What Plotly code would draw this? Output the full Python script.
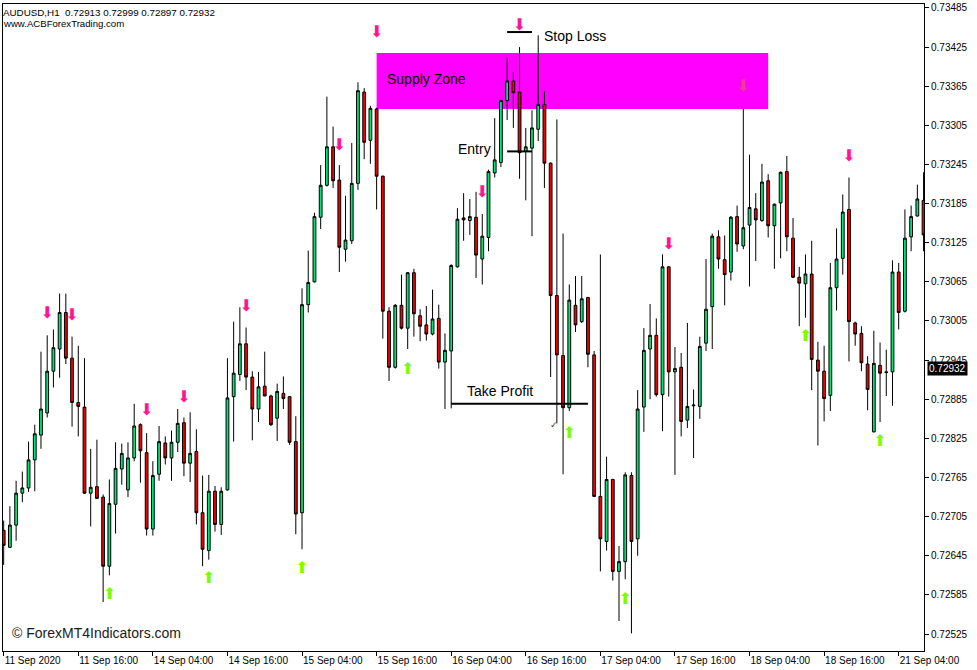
import plotly.graph_objects as go

# ---------------- data ----------------
SYMBOL = "AUDUSD,H1"
HEADER_OHLC = ["0.72913", "0.72999", "0.72897", "0.72932"]
SITE = "www.ACBForexTrading.com"
WATERMARK = "© ForexMT4Indicators.com"
LAST_PRICE = 0.72932

OPEN = [0.72684, 0.72658, 0.72692, 0.72741, 0.72749, 0.72792, 0.72830, 0.72864, 0.72928, 0.72962,
        0.73018, 0.72948, 0.72880, 0.72873, 0.72741, 0.72751, 0.72735, 0.72629, 0.72724, 0.72778,
        0.72746, 0.72795, 0.72846, 0.72803, 0.72686, 0.72770, 0.72818, 0.72795, 0.72819, 0.72849,
        0.72787, 0.72805, 0.72711, 0.72653, 0.72744, 0.72693, 0.72746, 0.72889, 0.72923, 0.72970,
        0.72919, 0.72870, 0.72905, 0.72890, 0.72856, 0.72894, 0.72889, 0.72820, 0.72711, 0.73030,
        0.73065, 0.73164, 0.73213, 0.73272, 0.73221, 0.73115, 0.73128, 0.73216, 0.73356, 0.73282,
        0.73330, 0.73227, 0.73020, 0.72934, 0.73029, 0.72994, 0.73079, 0.73013, 0.72999, 0.72985,
        0.73009, 0.72942, 0.72959, 0.73088, 0.73163, 0.73159, 0.73164, 0.73100, 0.73133, 0.73232,
        0.73248, 0.73343, 0.73373, 0.73356, 0.73265, 0.73270, 0.73299, 0.73337, 0.73247, 0.73044,
        0.72952, 0.72872, 0.73029, 0.73004, 0.73041, 0.72953, 0.72736, 0.72667, 0.72762, 0.72621,
        0.72636, 0.72768, 0.72671, 0.72873, 0.72962, 0.72983, 0.72892, 0.73088, 0.72927, 0.72934,
        0.72853, 0.72875, 0.72874, 0.72971, 0.73027, 0.73134, 0.73099, 0.73080, 0.73165, 0.73120,
        0.73152, 0.73177, 0.73159, 0.73220, 0.73151, 0.73186, 0.73234, 0.73132, 0.73072, 0.73062,
        0.73077, 0.72945, 0.72928, 0.72891, 0.73056, 0.73101, 0.73176, 0.73002, 0.72986, 0.72939,
        0.72835, 0.72937, 0.72927, 0.72927, 0.73080, 0.73020, 0.73134, 0.73166, 0.73190]

HIGH = [0.72699, 0.72721, 0.72760, 0.72774, 0.72820, 0.72846, 0.72958, 0.72983, 0.72992, 0.73047,
        0.73047, 0.72981, 0.72967, 0.72948, 0.72809, 0.72823, 0.72739, 0.72762, 0.72819, 0.72817,
        0.72819, 0.72878, 0.72848, 0.72833, 0.72790, 0.72844, 0.72828, 0.72837, 0.72870, 0.72857,
        0.72865, 0.72839, 0.72768, 0.72769, 0.72752, 0.72750, 0.72948, 0.73004, 0.73026, 0.72995,
        0.72928, 0.72927, 0.72958, 0.72892, 0.72909, 0.72920, 0.72890, 0.72859, 0.73055, 0.73113,
        0.73171, 0.73244, 0.73349, 0.73303, 0.73244, 0.73197, 0.73278, 0.73371, 0.73362, 0.73335,
        0.73332, 0.73228, 0.73026, 0.73031, 0.73076, 0.73080, 0.73085, 0.73023, 0.73028, 0.73053,
        0.73030, 0.72986, 0.73092, 0.73178, 0.73201, 0.73192, 0.73203, 0.73169, 0.73237, 0.73316,
        0.73344, 0.73408, 0.73387, 0.73425, 0.73301, 0.73328, 0.73443, 0.73357, 0.73248, 0.73314,
        0.73139, 0.73061, 0.73074, 0.73074, 0.73042, 0.72959, 0.73107, 0.72797, 0.72763, 0.72660,
        0.72773, 0.72773, 0.72899, 0.72994, 0.73031, 0.73009, 0.73107, 0.73089, 0.72965, 0.72956,
        0.73002, 0.72900, 0.72981, 0.73100, 0.73139, 0.73144, 0.73136, 0.73166, 0.73182, 0.73330,
        0.73260, 0.73201, 0.73246, 0.73230, 0.73185, 0.73234, 0.73258, 0.73163, 0.73088, 0.73107,
        0.73128, 0.72973, 0.72967, 0.73094, 0.73147, 0.73199, 0.73225, 0.73004, 0.72997, 0.72951,
        0.72990, 0.72972, 0.72961, 0.73098, 0.73094, 0.73176, 0.73182, 0.73214, 0.73233]

LOW = [0.72631, 0.72657, 0.72668, 0.72727, 0.72743, 0.72744, 0.72809, 0.72857, 0.72903, 0.72918,
       0.72939, 0.72843, 0.72828, 0.72740, 0.72690, 0.72732, 0.72574, 0.72615, 0.72679, 0.72754,
       0.72735, 0.72790, 0.72757, 0.72676, 0.72676, 0.72760, 0.72785, 0.72760, 0.72804, 0.72767,
       0.72758, 0.72693, 0.72629, 0.72639, 0.72682, 0.72677, 0.72745, 0.72820, 0.72913, 0.72899,
       0.72822, 0.72850, 0.72890, 0.72844, 0.72821, 0.72870, 0.72815, 0.72678, 0.72655, 0.73018,
       0.73064, 0.73146, 0.73211, 0.73209, 0.73080, 0.73096, 0.73123, 0.73206, 0.73253, 0.73246,
       0.73176, 0.72978, 0.72913, 0.72932, 0.72992, 0.72962, 0.72981, 0.72974, 0.72975, 0.72983,
       0.72932, 0.72870, 0.72871, 0.73087, 0.73128, 0.73137, 0.73071, 0.73061, 0.73112, 0.73225,
       0.73241, 0.73313, 0.73301, 0.73223, 0.73190, 0.73135, 0.73281, 0.73209, 0.72919, 0.72848,
       0.72770, 0.72867, 0.72988, 0.73002, 0.72934, 0.72735, 0.72621, 0.72653, 0.72607, 0.72545,
       0.72609, 0.72526, 0.72645, 0.72835, 0.72885, 0.72889, 0.72836, 0.72889, 0.72769, 0.72828,
       0.72841, 0.72795, 0.72855, 0.72959, 0.72962, 0.73085, 0.73029, 0.73067, 0.73111, 0.73115,
       0.73058, 0.73097, 0.73157, 0.73133, 0.73085, 0.73101, 0.73112, 0.73071, 0.72997, 0.73010,
       0.72899, 0.72814, 0.72851, 0.72867, 0.73021, 0.73076, 0.72943, 0.72967, 0.72928, 0.72868,
       0.72834, 0.72850, 0.72890, 0.72875, 0.72992, 0.73018, 0.73112, 0.73165, 0.73112]

CLOSE = [0.72661, 0.72692, 0.72741, 0.72749, 0.72792, 0.72832, 0.72870, 0.72928, 0.72964, 0.73018,
         0.72948, 0.72880, 0.72874, 0.72741, 0.72750, 0.72733, 0.72629, 0.72725, 0.72779, 0.72802,
         0.72795, 0.72844, 0.72806, 0.72686, 0.72768, 0.72820, 0.72795, 0.72819, 0.72848, 0.72787,
         0.72802, 0.72711, 0.72655, 0.72744, 0.72693, 0.72744, 0.72887, 0.72925, 0.72970, 0.72919,
         0.72870, 0.72904, 0.72890, 0.72846, 0.72897, 0.72886, 0.72819, 0.72709, 0.73030, 0.73064,
         0.73165, 0.73213, 0.73272, 0.73220, 0.73118, 0.73129, 0.73216, 0.73358, 0.73279, 0.73331,
         0.73227, 0.73020, 0.72934, 0.73029, 0.72994, 0.73079, 0.73016, 0.72997, 0.72985, 0.73008,
         0.72942, 0.72960, 0.73090, 0.73161, 0.73160, 0.73165, 0.73106, 0.73135, 0.73234, 0.73252,
         0.73343, 0.73373, 0.73355, 0.73263, 0.73272, 0.73301, 0.73337, 0.73247, 0.73044, 0.72953,
         0.72872, 0.73037, 0.72999, 0.73039, 0.72954, 0.72736, 0.72671, 0.72762, 0.72621, 0.72636,
         0.72769, 0.72667, 0.72870, 0.72960, 0.72983, 0.72892, 0.73088, 0.72927, 0.72932, 0.72851,
         0.72874, 0.72876, 0.72966, 0.73023, 0.73135, 0.73100, 0.73076, 0.73164, 0.73123, 0.73148,
         0.73179, 0.73160, 0.73218, 0.73151, 0.73184, 0.73233, 0.73134, 0.73072, 0.73063, 0.73077,
         0.72946, 0.72928, 0.72886, 0.73056, 0.73100, 0.73172, 0.73004, 0.72985, 0.72941, 0.72900,
         0.72940, 0.72925, 0.72926, 0.73080, 0.73018, 0.73132, 0.73165, 0.73192, 0.73137]

BARS = list(range(len(OPEN)))

TIME_TICK_BARS = [0, 12, 24, 36, 48, 60, 72, 84, 96, 108, 120, 132, 144]
TIME_TICK_LABELS = ["11 Sep 2020", "11 Sep 16:00", "14 Sep 04:00", "14 Sep 16:00",
                    "15 Sep 04:00", "15 Sep 16:00", "16 Sep 04:00", "16 Sep 16:00",
                    "17 Sep 04:00", "17 Sep 16:00", "18 Sep 04:00", "18 Sep 16:00",
                    "21 Sep 04:00"]
PRICE_TICKS = [0.72525, 0.72585, 0.72645, 0.72705, 0.72765, 0.72825, 0.72885, 0.72945,
               0.73005, 0.73065, 0.73125, 0.73185, 0.73245, 0.73305, 0.73365, 0.73425, 0.73485]

DOWN_ARROW_BARS = [7, 11, 23, 29, 39, 54, 60, 77, 83, 107, 136]
DOWN_ARROW_PRICES = [0.73015, 0.73013, 0.72867, 0.72887, 0.73026, 0.73274, 0.73446,
                     0.73201, 0.73457, 0.73121, 0.73256]
FADED_ARROW_BARS = [119]
FADED_ARROW_PRICES = [0.73364]
UP_ARROW_BARS = [17, 33, 48, 65, 91, 100, 129, 141]
UP_ARROW_PRICES = [0.72585, 0.72609, 0.72625, 0.72930, 0.72832, 0.72577, 0.72981, 0.72819]

SUPPLY_ZONE_BARS = [60, 123]
SUPPLY_ZONE_PRICES = [0.73330, 0.73416]
STOP_LOSS = 0.73448
ENTRY = 0.73265
TAKE_PROFIT = 0.72878
TRADE_BARS = [81, 85]
TP_BARS = [72, 94]
CLOSE_MARK = [88.6, 0.72846]

# ---------------- figure ----------------
GREEN = "#00E676"
RED = "#F00000"
FONT = "Liberation Sans"

fig = go.Figure()

fig.add_trace(go.Candlestick(
    x=BARS, open=OPEN, high=HIGH, low=LOW, close=CLOSE,
    increasing=dict(fillcolor=GREEN, line=dict(color="#000000", width=1)),
    decreasing=dict(fillcolor=RED, line=dict(color="#000000", width=1)),
    whiskerwidth=0, showlegend=False, hoverinfo="skip",
))

arrow_font = dict(family="DejaVu Sans", size=16)
fig.add_trace(go.Scatter(
    x=DOWN_ARROW_BARS, y=DOWN_ARROW_PRICES, mode="text", text=["⬇"] * len(DOWN_ARROW_BARS),
    textfont=dict(arrow_font, color="#FF1493"),
    showlegend=False, hoverinfo="skip",
))
fig.add_trace(go.Scatter(
    x=FADED_ARROW_BARS, y=FADED_ARROW_PRICES, mode="text", text=["⬇"] * len(FADED_ARROW_BARS),
    textfont=dict(arrow_font, color="#EE3C8E"),
    showlegend=False, hoverinfo="skip",
))
fig.add_trace(go.Scatter(
    x=UP_ARROW_BARS, y=UP_ARROW_PRICES, mode="text", text=["⬆"] * len(UP_ARROW_BARS),
    textfont=dict(arrow_font, color="#7CFC00"),
    showlegend=False, hoverinfo="skip",
))

shapes = [
    dict(type="rect", xref="x", yref="y", x0=SUPPLY_ZONE_BARS[0], x1=SUPPLY_ZONE_BARS[1],
         y0=SUPPLY_ZONE_PRICES[0], y1=SUPPLY_ZONE_PRICES[1], fillcolor="#FF00FF",
         line=dict(width=0), layer="below"),
    dict(type="line", xref="x", yref="y", x0=TRADE_BARS[0], x1=TRADE_BARS[1],
         y0=STOP_LOSS, y1=STOP_LOSS, line=dict(color="#000000", width=2)),
    dict(type="line", xref="x", yref="y", x0=TRADE_BARS[0], x1=TRADE_BARS[1],
         y0=ENTRY, y1=ENTRY, line=dict(color="#000000", width=2)),
    dict(type="line", xref="x", yref="y", x0=TP_BARS[0], x1=TP_BARS[1],
         y0=TAKE_PROFIT, y1=TAKE_PROFIT, line=dict(color="#000000", width=2)),
]

label_font = dict(family=FONT, size=14, color="#000000")
annotations = [
    dict(x=SUPPLY_ZONE_BARS[0], y=(SUPPLY_ZONE_PRICES[0] + SUPPLY_ZONE_PRICES[1]) / 2,
         xref="x", yref="y", text="Supply Zone", showarrow=False, xanchor="left",
         yanchor="middle", xshift=8, yshift=2, font=label_font),
    dict(x=TRADE_BARS[1], y=STOP_LOSS, xref="x", yref="y", text="Stop Loss", showarrow=False,
         xanchor="left", yanchor="middle", xshift=10, yshift=-4, font=label_font),
    dict(x=TRADE_BARS[0], y=ENTRY, xref="x", yref="y", text="Entry", showarrow=False,
         xanchor="right", yanchor="middle", xshift=-14, yshift=2, font=label_font),
    dict(x=TP_BARS[0], y=TAKE_PROFIT, xref="x", yref="y", text="Take Profit", showarrow=False,
         xanchor="left", yanchor="bottom", xshift=14, yshift=3, font=label_font),
    dict(x=CLOSE_MARK[0], y=CLOSE_MARK[1], xref="x", yref="y", text="✓", showarrow=False,
         font=dict(family="DejaVu Sans", size=9, color="#333333")),
    dict(x=0, y=1, xref="paper", yref="paper", xanchor="left", yanchor="top", xshift=-2, yshift=-1,
         text=SYMBOL + "\u00a0\u00a0" + " ".join(HEADER_OHLC), showarrow=False,
         font=dict(family=FONT, size=9.8, color="#000000")),
    dict(x=0, y=1, xref="paper", yref="paper", xanchor="left", yanchor="top", xshift=-2, yshift=-12,
         text=SITE, showarrow=False, font=dict(family=FONT, size=9.6, color="#000000")),
    dict(x=0, y=0, xref="paper", yref="paper", xanchor="left", yanchor="bottom", xshift=7, yshift=8,
         text=WATERMARK, showarrow=False, font=dict(family=FONT, size=14, color="#1a1a1a")),
    dict(x=1, y=LAST_PRICE, xref="paper", yref="y", xanchor="left", yanchor="middle", xshift=3,
         text=f"{LAST_PRICE:.5f}", showarrow=False, bgcolor="#000000", borderpad=1,
         font=dict(family=FONT, size=10, color="#FFFFFF")),
]

fig.update_layout(
    width=977, height=670,
    margin=dict(l=2, r=53, t=2, b=19),
    paper_bgcolor="#FFFFFF", plot_bgcolor="#FFFFFF",
    boxgap=0.36,
    shapes=shapes, annotations=annotations,
    font=dict(family=FONT, size=10, color="#000000"),
    xaxis=dict(
        range=[-0.11, 148.07], tickmode="array", tickvals=TIME_TICK_BARS, ticktext=TIME_TICK_LABELS,
        ticks="outside", ticklen=4, tickcolor="#000000", ticklabelposition="outside right",
        showgrid=False, zeroline=False, showline=True, linecolor="#000000", linewidth=1,
        mirror=True, rangeslider=dict(visible=False), fixedrange=True,
        tickfont=dict(family=FONT, size=10, color="#000000"),
    ),
    yaxis=dict(
        range=[0.72499, 0.73491], side="right", tickmode="array", tickvals=PRICE_TICKS,
        tickformat=".5f", ticks="outside", ticklen=4, tickcolor="#000000",
        showgrid=False, zeroline=False, showline=True, linecolor="#000000", linewidth=1,
        mirror=True, fixedrange=True,
        tickfont=dict(family=FONT, size=10, color="#000000"),
    ),
)

fig.write_html(
    "out.html",
    config={"displayModeBar": False},
    post_script="document.body.style.margin='0';document.body.style.overflow='hidden';",
)
